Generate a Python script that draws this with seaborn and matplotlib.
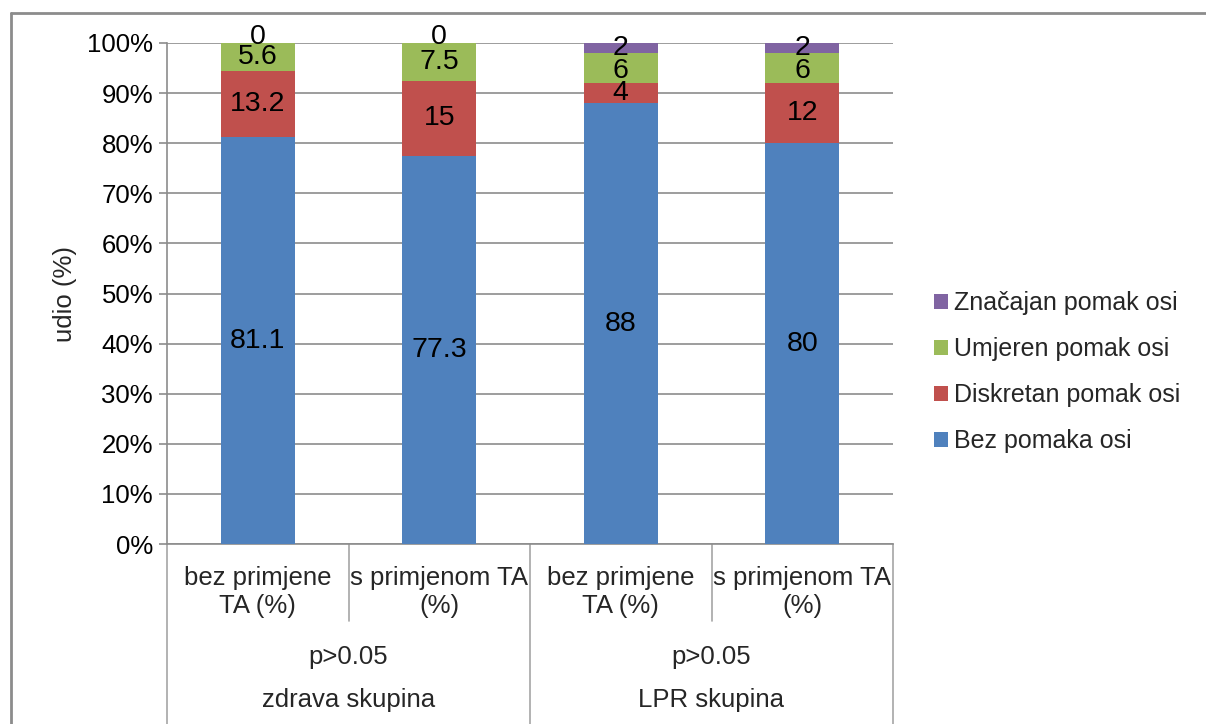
import matplotlib
matplotlib.use("Agg")
import matplotlib.pyplot as plt
import seaborn as sns
import numpy as np
import pandas as pd
from matplotlib.patches import Patch
from matplotlib.lines import Line2D

sns.set_theme(style="white")
plt.rcParams['font.family'] = ['Liberation Sans', 'DejaVu Sans']

# ---- data ----
bars = ["b1", "b2", "b3", "b4"]
bar_line1 = ["bez primjene", "s primjenom TA", "bez primjene", "s primjenom TA"]
bar_line2 = ["TA (%)", "(%)", "TA (%)", "(%)"]
groups = ["zdrava skupina", "LPR skupina"]
group_p = ["p>0.05", "p>0.05"]
series = ["Bez pomaka osi", "Diskretan pomak osi", "Umjeren pomak osi", "Značajan pomak osi"]
bez = [81.1, 77.3, 88, 80]
diskretan = [13.2, 15, 4, 12]
umjeren = [5.6, 7.5, 6, 6]
znacajan = [0, 0, 2, 2]
colors = ["#4F81BD", "#C0504D", "#9BBB59", "#8064A2"]

vals = np.array([bez, diskretan, umjeren, znacajan], dtype=float)
totals = vals.sum(axis=0)
shares = vals / totals
cum = np.cumsum(shares, axis=0)

W, H = 1206, 724
fig = plt.figure(figsize=(W / 100, H / 100), dpi=100)
ax = fig.add_axes([167 / W, 1 - 544 / H, (893 - 167) / W, (544 - 43) / H])

FS = 18.5
DFS = 20.5
LFS = 18

# draw stacked bars: top cumulative first, then lower ones over it
for i in range(len(series) - 1, -1, -1):
    df = pd.DataFrame({"bar": bars, "v": cum[i]})
    sns.barplot(data=df, x="bar", y="v", color=colors[i], width=0.41,
                saturation=1, ax=ax, edgecolor="none", linewidth=0, zorder=3)

# data labels
for j in range(len(bars)):
    for i in range(len(series)):
        lo = cum[i - 1, j] if i > 0 else 0.0
        hi = cum[i, j]
        yc = (lo + hi) / 2
        if vals[i, j] == 0:
            yc = hi + 0.012
        elif i == 2 and vals[3, j] > 0:
            yc -= 0.005
        v = vals[i, j]
        txt = f"{v:g}"
        ax.text(j, yc, txt, ha="center", va="center", fontsize=DFS,
                color="black", zorder=5)

ax.set_xlim(-0.5, 3.5)
ax.set_ylim(0, 1)
ax.set_yticks(np.arange(0, 1.01, 0.1))
ax.set_yticklabels([f"{int(round(t * 100))}%" for t in np.arange(0, 1.01, 0.1)],
                   fontsize=FS)
ax.set_xticks([])
ax.set_xlabel("")
ax.set_ylabel("udio (%)", fontsize=FS, labelpad=7)
ax.yaxis.grid(True, color="#8C8C8C", linewidth=1.2, zorder=0)
ax.set_axisbelow(True)
for s in ["top", "right"]:
    ax.spines[s].set_visible(False)
ax.spines["left"].set_color("#8C8C8C")
ax.spines["left"].set_linewidth(1.2)
ax.spines["bottom"].set_color("#8C8C8C")
ax.spines["bottom"].set_linewidth(1.2)
ax.tick_params(axis="y", left=True, length=6, width=1.2, color="#8C8C8C",
               pad=4, labelcolor="black")

# multi-level x-axis labels
axh = 544 - 43
def ay(py):
    return -(py - 544) / axh

trans = ax.get_xaxis_transform()
for j in range(len(bars)):
    ax.text(j, ay(578), bar_line1[j], transform=trans, ha="center", va="center", fontsize=FS)
    ax.text(j, ay(606), bar_line2[j], transform=trans, ha="center", va="center", fontsize=FS)
for g in range(len(groups)):
    xc = 2 * g + 0.5
    ax.text(xc, ay(657), group_p[g], transform=trans, ha="center", va="center", fontsize=FS)
    ax.text(xc, ay(700), groups[g], transform=trans, ha="center", va="center", fontsize=FS)

for xb, full in [(-0.5, True), (0.5, False), (1.5, True), (2.5, False), (3.5, True)]:
    y_end = ay(724) if full else ay(621)
    ax.add_line(Line2D([xb, xb], [0, y_end], transform=trans, color="#A6A6A6",
                       linewidth=1.2, clip_on=False))

# legend
handles = [Patch(facecolor=colors[i], edgecolor="none", label=series[i])
           for i in range(len(series) - 1, -1, -1)]
fig.legend(handles=handles, loc="center left", bbox_to_anchor=(924 / W, 1 - 372 / H),
           frameon=False, fontsize=LFS, handlelength=0.55, handleheight=0.55,
           handletextpad=0.25, labelspacing=0.88, borderaxespad=0)

# outer chart border (top and left visible)
fig.add_artist(Line2D([11 / W, 1], [1 - 13 / H, 1 - 13 / H], transform=fig.transFigure,
                      color="#8C8C8C", linewidth=2))
fig.add_artist(Line2D([11 / W, 11 / W], [0, 1 - 13 / H], transform=fig.transFigure,
                      color="#8C8C8C", linewidth=2))

fig.savefig("out.png", dpi=100, facecolor="white")
